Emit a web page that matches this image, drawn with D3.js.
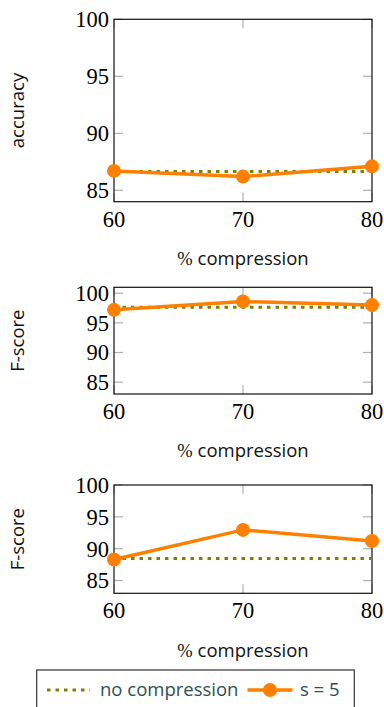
<!DOCTYPE html>
<html>
<head>
<meta charset="utf-8">
<script src="https://cdn.jsdelivr.net/npm/d3@7"></script>
<style>
  html, body { margin: 0; padding: 0; background: #fff; }
  svg { display: block; }
  .tick-label { font-family: "Liberation Serif", serif; font-size: 22.5px; fill: #000; }
  .axis-title { font-family: "Open Sans", sans-serif; font-size: 18.5px; fill: #111; }
  .legend-label { font-family: "Open Sans", sans-serif; font-size: 18.5px; fill: #2f4f4f; }
</style>
</head>
<body>
<div id="chart"></div>
<script>
const X_TICKS = [60, 70, 80];
const Y_TICKS = [85, 90, 95, 100];

const PANELS = [
  { yLabel: "accuracy", domain: [84, 100], baseline: 86.65, s5: [86.7, 86.2, 87.1] },
  { yLabel: "F-score",  domain: [83, 101], baseline: 97.65, s5: [97.2, 98.6, 98.0] },
  { yLabel: "F-score",  domain: [83, 100], baseline: 88.45, s5: [88.3, 92.95, 91.2] }
];

const ORANGE = "#ff8000";
const OLIVE = "#808000";

const W = 384, H = 707;
const svg = d3.select("#chart").append("svg")
  .attr("width", W).attr("height", H)
  .attr("viewBox", `0 0 ${W} ${H}`);

// panel boxes (top, bottom) in px
const BOXES = [
  { top: 19.3, bottom: 201.7 },
  { top: 287.3, bottom: 394 },
  { top: 485, bottom: 593.3 }
];
const L = 114, R = 372;

const x = d3.scaleLinear().domain([60, 80]).range([L, R]);

PANELS.forEach((p, i) => {
  const box = BOXES[i];
  const y = d3.scaleLinear().domain(p.domain).range([box.bottom, box.top]);
  const g = svg.append("g");

  // inner tick marks (gray), both sides
  const tl = 9;
  Y_TICKS.filter(t => t >= p.domain[0] && t <= p.domain[1]).forEach(t => {
    g.append("line").attr("x1", L).attr("x2", L + tl).attr("y1", y(t)).attr("y2", y(t))
      .attr("stroke", "#b0b0b0").attr("stroke-width", 1.2);
    g.append("line").attr("x1", R - tl).attr("x2", R).attr("y1", y(t)).attr("y2", y(t))
      .attr("stroke", "#b0b0b0").attr("stroke-width", 1.2);
    g.append("text").attr("class", "tick-label")
      .attr("x", L - 5).attr("y", y(t)).attr("dy", "0.35em")
      .attr("text-anchor", "end").text(t);
  });
  X_TICKS.forEach(t => {
    g.append("line").attr("x1", x(t)).attr("x2", x(t)).attr("y1", box.bottom).attr("y2", box.bottom - tl)
      .attr("stroke", "#b0b0b0").attr("stroke-width", 1.2);
    g.append("line").attr("x1", x(t)).attr("x2", x(t)).attr("y1", box.top).attr("y2", box.top + tl)
      .attr("stroke", "#b0b0b0").attr("stroke-width", 1.2);
    g.append("text").attr("class", "tick-label")
      .attr("x", x(t)).attr("y", box.bottom + 17).attr("dy", "0.35em")
      .attr("text-anchor", "middle").text(t);
  });

  // frame
  g.append("rect").attr("x", L).attr("y", box.top)
    .attr("width", R - L).attr("height", box.bottom - box.top)
    .attr("fill", "none").attr("stroke", "#111").attr("stroke-width", 1.2);

  // baseline (no compression)
  g.append("line")
    .attr("x1", x(60)).attr("x2", x(80))
    .attr("y1", y(p.baseline)).attr("y2", y(p.baseline))
    .attr("stroke", OLIVE).attr("stroke-width", 3)
    .attr("stroke-dasharray", "3.5,5");

  // s = 5
  const pts = X_TICKS.map((xv, k) => ({ x: xv, v: p.s5[k] }));
  g.append("path").datum(pts)
    .attr("d", d3.line().x(d => x(d.x)).y(d => y(d.v)))
    .attr("fill", "none").attr("stroke", ORANGE).attr("stroke-width", 3.5);
  g.selectAll("circle.pt").data(pts).join("circle")
    .attr("class", "pt")
    .attr("cx", d => x(d.x)).attr("cy", d => y(d.v)).attr("r", 7)
    .attr("fill", ORANGE);

  // axis titles
  const xt = g.append("text").attr("class", "axis-title")
    .attr("x", (L + R) / 2).attr("y", box.bottom + 57).attr("dy", "0.35em")
    .attr("text-anchor", "middle");
  xt.append("tspan").attr("font-family", "Liberation Serif, serif").text("%");
  xt.append("tspan").text(" compression");

  g.append("text").attr("class", "axis-title")
    .attr("transform", `translate(18,${(box.top + box.bottom) / 2}) rotate(-90)`)
    .attr("dy", "0.35em").attr("text-anchor", "middle").text(p.yLabel);
});

// legend
const lg = svg.append("g");
lg.append("rect").attr("x", 36.7).attr("y", 670).attr("width", 317.6).attr("height", 60)
  .attr("fill", "#fff").attr("stroke", "#333").attr("stroke-width", 1.2);
const ly = 690;
lg.append("line").attr("x1", 47).attr("x2", 90).attr("y1", ly).attr("y2", ly)
  .attr("stroke", OLIVE).attr("stroke-width", 3).attr("stroke-dasharray", "3.5,5");
lg.append("text").attr("class", "legend-label").attr("x", 100).attr("y", ly).attr("dy", "0.35em")
  .text("no compression");
lg.append("line").attr("x1", 247.5).attr("x2", 292.5).attr("y1", ly).attr("y2", ly)
  .attr("stroke", ORANGE).attr("stroke-width", 3.5);
lg.append("circle").attr("cx", 270).attr("cy", ly).attr("r", 7).attr("fill", ORANGE);
lg.append("text").attr("class", "legend-label").attr("x", 300).attr("y", ly).attr("dy", "0.35em")
  .text("s = 5");
</script>
</body>
</html>
